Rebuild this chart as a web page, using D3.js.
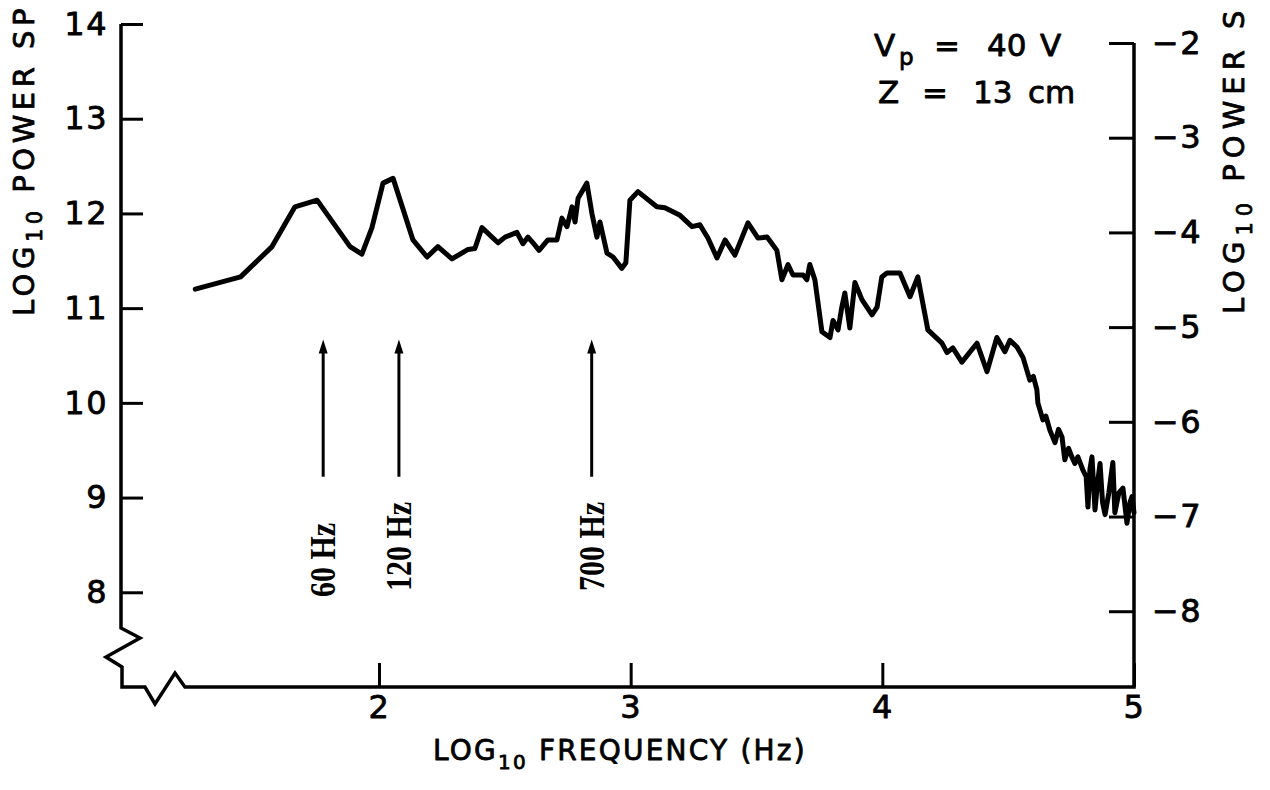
<!DOCTYPE html>
<html>
<head>
<meta charset="utf-8">
<script src="https://cdn.jsdelivr.net/npm/d3@7"></script>
<style>
  html, body { margin: 0; padding: 0; background: #fff; }
  svg { display: block; }
</style>
</head>
<body>
<svg id="chart" width="1270" height="790"></svg>
<script>
// Spectrum trace: log10 frequency (Hz) of each sample
const logFreq = [
  1.27, 1.45, 1.575, 1.666, 1.754, 1.885, 1.932, 1.972, 2.016, 2.056,
  2.135, 2.191, 2.234, 2.290, 2.354, 2.381, 2.409, 2.473, 2.501, 2.548,
  2.572, 2.592, 2.612, 2.636, 2.671, 2.707, 2.727, 2.747, 2.767, 2.779,
  2.791, 2.826, 2.846, 2.866, 2.878, 2.906, 2.930, 2.965, 2.981, 2.997,
  3.029, 3.104, 3.136, 3.196, 3.244, 3.275, 3.307, 3.343, 3.375, 3.414,
  3.466, 3.506, 3.542, 3.581, 3.601, 3.625, 3.645, 3.685, 3.700, 3.712,
  3.732, 3.760, 3.792, 3.804, 3.824, 3.839, 3.851, 3.871, 3.891, 3.919,
  3.959, 3.979, 3.998, 4.018, 4.070, 4.110, 4.141, 4.181, 4.237, 4.257,
  4.280, 4.316, 4.376, 4.416, 4.455, 4.487, 4.507, 4.535, 4.559, 4.586,
  4.600, 4.614, 4.618, 4.638, 4.650, 4.666, 4.686, 4.700, 4.714, 4.725,
  4.740, 4.753, 4.765, 4.777, 4.797, 4.810, 4.817, 4.825, 4.833, 4.845,
  4.855, 4.865, 4.875, 4.885, 4.900, 4.916, 4.924, 4.940, 4.956, 4.972,
  4.984, 4.992, 5.000
];
// log10 power spectrum at each sample (left-axis units)
const logPower = [
  11.20, 11.33, 11.65, 12.07, 12.14, 11.65, 11.57, 11.85, 12.32, 12.37,
  11.72, 11.54, 11.65, 11.52, 11.62, 11.63, 11.85, 11.69, 11.75, 11.80,
  11.68, 11.75, 11.69, 11.61, 11.72, 11.72, 11.95, 11.86, 12.07, 11.91,
  12.16, 12.32, 12.00, 11.75, 11.91, 11.58, 11.54, 11.42, 11.48, 12.14,
  12.23, 12.07, 12.06, 11.98, 11.86, 11.88, 11.74, 11.53, 11.72, 11.56,
  11.90, 11.74, 11.75, 11.61, 11.30, 11.46, 11.35, 11.35, 11.30, 11.46,
  11.30, 10.75, 10.69, 10.87, 10.77, 11.01, 11.16, 10.79, 11.27, 11.09,
  10.93, 11.01, 11.33, 11.37, 11.37, 11.12, 11.33, 10.77, 10.63, 10.53,
  10.58, 10.43, 10.63, 10.33, 10.69, 10.54, 10.66, 10.59, 10.48, 10.24,
  10.28, 10.14, 10.00, 9.82, 9.86, 9.71, 9.58, 9.72, 9.64, 9.40,
  9.52, 9.43, 9.36, 9.43, 9.29, 9.22, 8.90, 9.30, 9.43, 8.87,
  9.15, 9.36, 8.95, 8.82, 9.05, 9.37, 8.84, 9.05, 9.10, 8.73,
  8.95, 9.01, 8.84
];

const leftTicks = [8, 9, 10, 11, 12, 13, 14];
const rightTicks = [-8, -7, -6, -5, -4, -3, -2];
const freqTicks = [2, 3, 4, 5];
const markerHz = [60, 120, 700];
const markerLabels = ["60 Hz", "120 Hz", "700 Hz"];

const svg = d3.select("#chart");
const SANS = "DejaVu Sans";
const INK = "#000";

const x = d3.scaleLinear().domain([2, 5]).range([379, 1134]);
const yL = d3.scaleLinear().domain([7, 14]).range([687, 24]);
const yR = d3.scaleLinear().domain([-8.8, -2]).range([687, 43]);

const xLeft = 121;
const y0 = yL(7);
const xRight = x(5);

// Plotter-style lettering: a thin outline thickens the glyph strokes
function ink(sel, w = 0.8) {
  sel.attr("fill", INK).attr("stroke", INK).attr("stroke-width", w)
     .attr("stroke-linejoin", "round");
}

function styleAxis(g) {
  g.select(".domain").remove();
  g.selectAll(".tick line").attr("stroke", INK).attr("stroke-width", 3);
  g.selectAll(".tick text")
    .attr("font-family", SANS)
    .attr("font-size", 32)
    .attr("letter-spacing", 1.5)
    .call(ink);
}

// Left axis ticks and labels
svg.append("g")
  .attr("transform", `translate(${xLeft},0)`)
  .call(d3.axisLeft(yL).tickValues(leftTicks).tickSizeInner(-22).tickSizeOuter(0)
    .tickPadding(13).tickFormat(d3.format("d")))
  .call(styleAxis);

// Right axis ticks and labels
svg.append("g")
  .attr("transform", `translate(${xRight},0)`)
  .call(d3.axisRight(yR).tickValues(rightTicks).tickSizeInner(-25).tickSizeOuter(0)
    .tickPadding(18).tickFormat(d3.format("d")))
  .call(styleAxis);

// Bottom axis ticks and labels
svg.append("g")
  .attr("transform", `translate(0,${y0})`)
  .call(d3.axisBottom(x).tickValues(freqTicks).tickSizeInner(-24).tickSizeOuter(0)
    .tickPadding(8).tickFormat(d3.format("d")))
  .call(styleAxis);

// Frame: left axis with broken-scale zigzag, bottom axis with break, right axis
const frame = d3.path();
frame.moveTo(xLeft, yL(14));
frame.lineTo(xLeft, y0 - 59);
frame.lineTo(xLeft + 19, y0 - 49);
frame.lineTo(xLeft - 15, y0 - 30);
frame.lineTo(xLeft + 1, y0 - 20);
frame.lineTo(xLeft + 1, y0);
frame.lineTo(xLeft + 24, y0);
frame.lineTo(xLeft + 34, y0 + 17);
frame.lineTo(xLeft + 54, y0 - 14);
frame.lineTo(xLeft + 64, y0);
frame.lineTo(xRight, y0);
frame.lineTo(xRight, yR(-2));
svg.append("path")
  .attr("d", frame.toString())
  .attr("fill", "none")
  .attr("stroke", INK)
  .attr("stroke-width", 3.5)
  .attr("stroke-linejoin", "miter");

// Spectrum trace
const pts = logFreq.map((f, i) => [f, logPower[i]]);
svg.append("path")
  .datum(pts)
  .attr("d", d3.line().x(d => x(d[0])).y(d => yL(d[1])))
  .attr("fill", "none")
  .attr("stroke", INK)
  .attr("stroke-width", 5)
  .attr("stroke-linejoin", "round")
  .attr("stroke-linecap", "round");

// Line-frequency markers: arrows with rotated labels
const arrowTip = yL(10.67);
const arrowBase = yL(9.22);
markerHz.forEach((hz, i) => {
  const xa = x(Math.log10(hz));
  svg.append("line")
    .attr("x1", xa).attr("x2", xa)
    .attr("y1", arrowBase).attr("y2", arrowTip + 8)
    .attr("stroke", INK).attr("stroke-width", 3);
  svg.append("path")
    .attr("d", `M${xa},${arrowTip} L${xa - 4.5},${arrowTip + 14} L${xa + 4.5},${arrowTip + 14} Z`)
    .attr("fill", INK);
  svg.append("text")
    .attr("transform", `translate(${xa + 12},${i === 0 ? 597 : 591}) rotate(-90) scale(1,1.2)`)
    .attr("font-family", "Liberation Serif")
    .attr("font-weight", "bold")
    .attr("font-size", 30)
    .attr("fill", INK)
    .text(markerLabels[i]);
});

// Axis titles
function logTitle(sel, rest, subSize, shift) {
  sel.append("tspan").text("LOG");
  sel.append("tspan").attr("font-size", subSize).attr("dy", shift).text("10");
  sel.append("tspan").attr("dy", -shift).text(rest);
}

svg.append("text")
  .attr("transform", "translate(34,316) rotate(-90)")
  .attr("font-family", SANS).attr("font-size", 29).attr("letter-spacing", 4.5)
  .call(ink)
  .call(logTitle, " POWER SP", 21, 8);

svg.append("text")
  .attr("transform", "translate(1244,314) rotate(-90)")
  .attr("font-family", SANS).attr("font-size", 29).attr("letter-spacing", 6)
  .call(ink)
  .call(logTitle, " POWER S", 21, 8);

svg.append("text")
  .attr("x", 433).attr("y", 760)
  .attr("font-family", SANS).attr("font-size", 28).attr("letter-spacing", 2.2)
  .call(ink)
  .call(logTitle, " FREQUENCY (Hz)", 20, 9);

// Operating conditions
const note = svg.append("g").attr("font-family", SANS).attr("font-size", 31).call(ink);
const l1 = note.append("text").attr("y", 56);
l1.append("tspan").attr("x", 874).text("V");
l1.append("tspan").attr("x", 899).attr("dy", 9).attr("font-size", 23).text("p");
l1.append("tspan").attr("x", 934).attr("dy", -9).text("=");
l1.append("tspan").attr("x", 987).text("40");
l1.append("tspan").attr("x", 1040).text("V");
const l2 = note.append("text").attr("y", 103);
l2.append("tspan").attr("x", 878).text("Z");
l2.append("tspan").attr("x", 922).text("=");
l2.append("tspan").attr("x", 973).text("13");
l2.append("tspan").attr("x", 1028).text("cm");
</script>
</body>
</html>
